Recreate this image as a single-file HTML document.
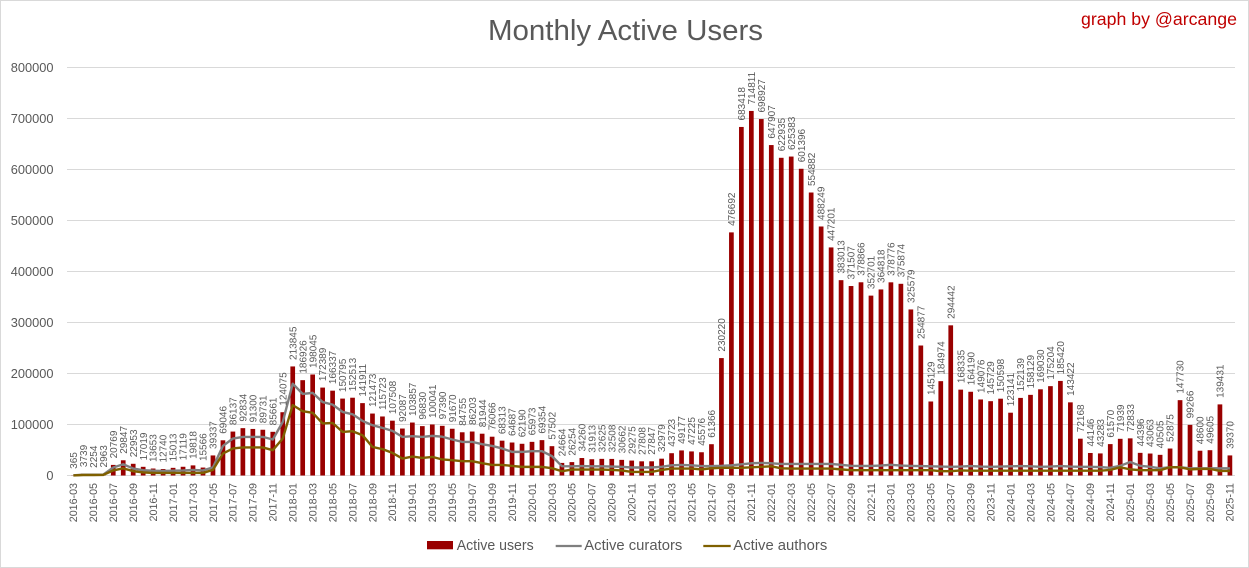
<!DOCTYPE html>
<html><head><meta charset="utf-8">
<style>
html,body{margin:0;padding:0;background:#fff;}
svg{display:block;font-family:"Liberation Sans",sans-serif;}
.d{font-size:10px;fill:#595959;transform:translate(calc(76.985px + var(--i) * 9.97px),calc(469px - var(--v) * 0.00051px)) rotate(-90deg);}
.x{font-size:10.7px;fill:#595959;text-anchor:end;transform:translate(calc(77.2px + var(--i) * 9.97px),483px) rotate(-90deg);}
.y{font-size:12.8px;fill:#595959;text-anchor:end;}
</style></head>
<body>
<svg width="1249" height="568" viewBox="0 0 1249 568" xmlns="http://www.w3.org/2000/svg">
<rect x="0.5" y="0.5" width="1248" height="567" fill="#fff" stroke="#d9d9d9"/>
<text x="625.5" y="40" font-size="28.5" fill="#595959" text-anchor="middle" textLength="275" lengthAdjust="spacingAndGlyphs">Monthly Active Users</text>
<text x="1237" y="25" font-size="17.5" fill="#c00000" text-anchor="end" textLength="156" lengthAdjust="spacingAndGlyphs">graph by @arcange</text>
<g stroke="#d9d9d9" stroke-width="1">
<line x1="67" x2="1235" y1="67.5" y2="67.5"/>
<line x1="67" x2="1235" y1="118.5" y2="118.5"/>
<line x1="67" x2="1235" y1="169.5" y2="169.5"/>
<line x1="67" x2="1235" y1="220.5" y2="220.5"/>
<line x1="67" x2="1235" y1="271.5" y2="271.5"/>
<line x1="67" x2="1235" y1="322.5" y2="322.5"/>
<line x1="67" x2="1235" y1="373.5" y2="373.5"/>
<line x1="67" x2="1235" y1="424.5" y2="424.5"/>
<line x1="67" x2="1235" y1="475.5" y2="475.5"/>
</g>
<text class="y" x="53.5" y="72">800000</text>
<text class="y" x="53.5" y="123">700000</text>
<text class="y" x="53.5" y="174">600000</text>
<text class="y" x="53.5" y="225">500000</text>
<text class="y" x="53.5" y="276">400000</text>
<text class="y" x="53.5" y="327">300000</text>
<text class="y" x="53.5" y="378">200000</text>
<text class="y" x="53.5" y="429">100000</text>
<text class="y" x="53.5" y="480">0</text>
<g transform="translate(68.4 475.5) scale(9.97 -0.00051)" fill="#990000">
<rect x="0.264" width="0.471" height="365"/>
<rect x="1.264" width="0.471" height="3739"/>
<rect x="2.264" width="0.471" height="2254"/>
<rect x="3.264" width="0.471" height="2963"/>
<rect x="4.264" width="0.471" height="20769"/>
<rect x="5.264" width="0.471" height="29847"/>
<rect x="6.264" width="0.471" height="22953"/>
<rect x="7.264" width="0.471" height="17019"/>
<rect x="8.264" width="0.471" height="13653"/>
<rect x="9.264" width="0.471" height="12740"/>
<rect x="10.264" width="0.471" height="15013"/>
<rect x="11.264" width="0.471" height="17119"/>
<rect x="12.264" width="0.471" height="19818"/>
<rect x="13.264" width="0.471" height="15566"/>
<rect x="14.264" width="0.471" height="39337"/>
<rect x="15.264" width="0.471" height="69046"/>
<rect x="16.264" width="0.471" height="86137"/>
<rect x="17.264" width="0.471" height="92834"/>
<rect x="18.264" width="0.471" height="91300"/>
<rect x="19.264" width="0.471" height="89731"/>
<rect x="20.264" width="0.471" height="85661"/>
<rect x="21.264" width="0.471" height="124075"/>
<rect x="22.264" width="0.471" height="213845"/>
<rect x="23.264" width="0.471" height="186926"/>
<rect x="24.264" width="0.471" height="198045"/>
<rect x="25.264" width="0.471" height="172389"/>
<rect x="26.264" width="0.471" height="166337"/>
<rect x="27.264" width="0.471" height="150795"/>
<rect x="28.264" width="0.471" height="152513"/>
<rect x="29.264" width="0.471" height="141911"/>
<rect x="30.264" width="0.471" height="121473"/>
<rect x="31.264" width="0.471" height="115723"/>
<rect x="32.264" width="0.471" height="107508"/>
<rect x="33.264" width="0.471" height="92087"/>
<rect x="34.264" width="0.471" height="103857"/>
<rect x="35.264" width="0.471" height="96830"/>
<rect x="36.264" width="0.471" height="100041"/>
<rect x="37.264" width="0.471" height="97390"/>
<rect x="38.264" width="0.471" height="91670"/>
<rect x="39.264" width="0.471" height="84755"/>
<rect x="40.264" width="0.471" height="86203"/>
<rect x="41.264" width="0.471" height="81944"/>
<rect x="42.264" width="0.471" height="76066"/>
<rect x="43.264" width="0.471" height="68313"/>
<rect x="44.264" width="0.471" height="64687"/>
<rect x="45.264" width="0.471" height="62190"/>
<rect x="46.264" width="0.471" height="65973"/>
<rect x="47.264" width="0.471" height="69354"/>
<rect x="48.264" width="0.471" height="57502"/>
<rect x="49.264" width="0.471" height="24664"/>
<rect x="50.264" width="0.471" height="26254"/>
<rect x="51.264" width="0.471" height="34260"/>
<rect x="52.264" width="0.471" height="31913"/>
<rect x="53.264" width="0.471" height="32625"/>
<rect x="54.264" width="0.471" height="32508"/>
<rect x="55.264" width="0.471" height="30662"/>
<rect x="56.264" width="0.471" height="29275"/>
<rect x="57.264" width="0.471" height="27808"/>
<rect x="58.264" width="0.471" height="27847"/>
<rect x="59.264" width="0.471" height="32979"/>
<rect x="60.264" width="0.471" height="43723"/>
<rect x="61.264" width="0.471" height="49177"/>
<rect x="62.264" width="0.471" height="47225"/>
<rect x="63.264" width="0.471" height="45576"/>
<rect x="64.264" width="0.471" height="61366"/>
<rect x="65.264" width="0.471" height="230220"/>
<rect x="66.264" width="0.471" height="476692"/>
<rect x="67.264" width="0.471" height="683418"/>
<rect x="68.264" width="0.471" height="714811"/>
<rect x="69.264" width="0.471" height="698927"/>
<rect x="70.264" width="0.471" height="647907"/>
<rect x="71.264" width="0.471" height="622935"/>
<rect x="72.264" width="0.471" height="625383"/>
<rect x="73.264" width="0.471" height="601396"/>
<rect x="74.264" width="0.471" height="554882"/>
<rect x="75.264" width="0.471" height="488249"/>
<rect x="76.264" width="0.471" height="447201"/>
<rect x="77.264" width="0.471" height="383013"/>
<rect x="78.264" width="0.471" height="371507"/>
<rect x="79.264" width="0.471" height="378866"/>
<rect x="80.264" width="0.471" height="352701"/>
<rect x="81.264" width="0.471" height="364818"/>
<rect x="82.264" width="0.471" height="378776"/>
<rect x="83.264" width="0.471" height="375874"/>
<rect x="84.264" width="0.471" height="325579"/>
<rect x="85.264" width="0.471" height="254877"/>
<rect x="86.264" width="0.471" height="145129"/>
<rect x="87.264" width="0.471" height="184974"/>
<rect x="88.264" width="0.471" height="294442"/>
<rect x="89.264" width="0.471" height="168335"/>
<rect x="90.264" width="0.471" height="164190"/>
<rect x="91.264" width="0.471" height="149076"/>
<rect x="92.264" width="0.471" height="145729"/>
<rect x="93.264" width="0.471" height="150598"/>
<rect x="94.264" width="0.471" height="123141"/>
<rect x="95.264" width="0.471" height="152139"/>
<rect x="96.264" width="0.471" height="158129"/>
<rect x="97.264" width="0.471" height="169030"/>
<rect x="98.264" width="0.471" height="175204"/>
<rect x="99.264" width="0.471" height="185420"/>
<rect x="100.264" width="0.471" height="143422"/>
<rect x="101.264" width="0.471" height="72168"/>
<rect x="102.264" width="0.471" height="44146"/>
<rect x="103.264" width="0.471" height="43283"/>
<rect x="104.264" width="0.471" height="61570"/>
<rect x="105.264" width="0.471" height="71939"/>
<rect x="106.264" width="0.471" height="72833"/>
<rect x="107.264" width="0.471" height="44396"/>
<rect x="108.264" width="0.471" height="43063"/>
<rect x="109.264" width="0.471" height="40505"/>
<rect x="110.264" width="0.471" height="52875"/>
<rect x="111.264" width="0.471" height="147730"/>
<rect x="112.264" width="0.471" height="99266"/>
<rect x="113.264" width="0.471" height="48600"/>
<rect x="114.264" width="0.471" height="49605"/>
<rect x="115.264" width="0.471" height="139431"/>
<rect x="116.264" width="0.471" height="39370"/>
<polyline fill="none" stroke="#7f7f7f" stroke-width="2.4" stroke-linejoin="round" vector-effect="non-scaling-stroke" points="0.5,300 1.5,1500 2.5,1500 3.5,1800 4.5,15700 5.5,22000 6.5,13700 7.5,10500 8.5,9500 9.5,9000 10.5,9500 11.5,10000 12.5,11000 13.5,10000 14.5,16000 15.5,58000 16.5,72500 17.5,75700 18.5,75700 19.5,75700 20.5,70600 21.5,105000 22.5,180000 23.5,160000 24.5,162000 25.5,144000 26.5,139000 27.5,124700 28.5,120000 29.5,107000 30.5,98600 31.5,93400 32.5,87500 33.5,75700 34.5,77000 35.5,75700 36.5,77700 37.5,76000 38.5,70600 39.5,65900 40.5,65900 41.5,61400 42.5,58000 43.5,53000 44.5,46300 45.5,46300 46.5,47600 47.5,47600 48.5,38000 49.5,18200 50.5,18000 51.5,18500 52.5,18000 53.5,18000 54.5,17500 55.5,17000 56.5,15700 57.5,15700 58.5,15700 59.5,17000 60.5,20000 61.5,20800 62.5,20000 63.5,18500 64.5,18500 65.5,19000 66.5,20000 67.5,22000 68.5,24000 69.5,24700 70.5,24000 71.5,22700 72.5,22700 73.5,22700 74.5,22700 75.5,22700 76.5,22700 77.5,21000 78.5,19000 79.5,18800 80.5,18800 81.5,19500 82.5,21000 83.5,19500 84.5,18800 85.5,18500 86.5,18000 87.5,17500 88.5,17000 89.5,17500 90.5,18500 91.5,17500 92.5,17000 93.5,17500 94.5,18000 95.5,18500 96.5,18000 97.5,17000 98.5,17500 99.5,18500 100.5,17500 101.5,17000 102.5,17000 103.5,16500 104.5,15000 105.5,19000 106.5,26500 107.5,19000 108.5,17000 109.5,14000 110.5,16300 111.5,16300 112.5,14000 113.5,14000 114.5,14000 115.5,14000 116.5,14000"/>
<polyline fill="none" stroke="#7f6000" stroke-width="2.4" stroke-linejoin="round" vector-effect="non-scaling-stroke" points="0.5,200 1.5,1000 2.5,1000 3.5,1200 4.5,10000 5.5,14000 6.5,8500 7.5,6000 8.5,5000 9.5,5000 10.5,5000 11.5,5000 12.5,5000 13.5,5000 14.5,11000 15.5,43000 16.5,53000 17.5,55000 18.5,55000 19.5,55000 20.5,49600 21.5,72500 22.5,138000 23.5,126000 24.5,123000 25.5,102000 26.5,103000 27.5,85500 28.5,86800 29.5,79000 30.5,56000 31.5,51600 32.5,44300 33.5,33300 34.5,37200 35.5,34500 36.5,36500 37.5,31400 38.5,30000 39.5,28000 40.5,28000 41.5,24100 42.5,20800 43.5,20800 44.5,18800 45.5,16900 46.5,16900 47.5,16900 48.5,14300 49.5,8400 50.5,11700 51.5,11700 52.5,11700 53.5,11700 54.5,11000 55.5,10000 56.5,7000 57.5,7000 58.5,7000 59.5,11000 60.5,13700 61.5,13700 62.5,13700 63.5,12000 64.5,14000 65.5,15000 66.5,15000 67.5,15000 68.5,16000 69.5,17000 70.5,18000 71.5,14000 72.5,13700 73.5,13700 74.5,13700 75.5,13700 76.5,13700 77.5,12000 78.5,10400 79.5,10400 80.5,10400 81.5,10400 82.5,10400 83.5,10400 84.5,10400 85.5,10400 86.5,10400 87.5,8500 88.5,8500 89.5,10000 90.5,9500 91.5,9500 92.5,9500 93.5,9500 94.5,9500 95.5,9500 96.5,9500 97.5,9500 98.5,9500 99.5,9500 100.5,9500 101.5,9500 102.5,9500 103.5,9500 104.5,11000 105.5,16000 106.5,12000 107.5,10400 108.5,10400 109.5,10400 110.5,16300 111.5,16000 112.5,12000 113.5,13000 114.5,13000 115.5,9000 116.5,9000"/>
</g>
<g>
<text class="d" style="--i:0;--v:365">365</text>
<text class="d" style="--i:1;--v:3739">3739</text>
<text class="d" style="--i:2;--v:2254">2254</text>
<text class="d" style="--i:3;--v:2963">2963</text>
<text class="d" style="--i:4;--v:20769">20769</text>
<text class="d" style="--i:5;--v:29847">29847</text>
<text class="d" style="--i:6;--v:22953">22953</text>
<text class="d" style="--i:7;--v:17019">17019</text>
<text class="d" style="--i:8;--v:13653">13653</text>
<text class="d" style="--i:9;--v:12740">12740</text>
<text class="d" style="--i:10;--v:15013">15013</text>
<text class="d" style="--i:11;--v:17119">17119</text>
<text class="d" style="--i:12;--v:19818">19818</text>
<text class="d" style="--i:13;--v:15566">15566</text>
<text class="d" style="--i:14;--v:39337">39337</text>
<text class="d" style="--i:15;--v:69046">69046</text>
<text class="d" style="--i:16;--v:86137">86137</text>
<text class="d" style="--i:17;--v:92834">92834</text>
<text class="d" style="--i:18;--v:91300">91300</text>
<text class="d" style="--i:19;--v:89731">89731</text>
<text class="d" style="--i:20;--v:85661">85661</text>
<text class="d" style="--i:21;--v:124075">124075</text>
<text class="d" style="--i:22;--v:213845">213845</text>
<text class="d" style="--i:23;--v:186926">186926</text>
<text class="d" style="--i:24;--v:198045">198045</text>
<text class="d" style="--i:25;--v:172389">172389</text>
<text class="d" style="--i:26;--v:166337">166337</text>
<text class="d" style="--i:27;--v:150795">150795</text>
<text class="d" style="--i:28;--v:152513">152513</text>
<text class="d" style="--i:29;--v:141911">141911</text>
<text class="d" style="--i:30;--v:121473">121473</text>
<text class="d" style="--i:31;--v:115723">115723</text>
<text class="d" style="--i:32;--v:107508">107508</text>
<text class="d" style="--i:33;--v:92087">92087</text>
<text class="d" style="--i:34;--v:103857">103857</text>
<text class="d" style="--i:35;--v:96830">96830</text>
<text class="d" style="--i:36;--v:100041">100041</text>
<text class="d" style="--i:37;--v:97390">97390</text>
<text class="d" style="--i:38;--v:91670">91670</text>
<text class="d" style="--i:39;--v:84755">84755</text>
<text class="d" style="--i:40;--v:86203">86203</text>
<text class="d" style="--i:41;--v:81944">81944</text>
<text class="d" style="--i:42;--v:76066">76066</text>
<text class="d" style="--i:43;--v:68313">68313</text>
<text class="d" style="--i:44;--v:64687">64687</text>
<text class="d" style="--i:45;--v:62190">62190</text>
<text class="d" style="--i:46;--v:65973">65973</text>
<text class="d" style="--i:47;--v:69354">69354</text>
<text class="d" style="--i:48;--v:57502">57502</text>
<text class="d" style="--i:49;--v:24664">24664</text>
<text class="d" style="--i:50;--v:26254">26254</text>
<text class="d" style="--i:51;--v:34260">34260</text>
<text class="d" style="--i:52;--v:31913">31913</text>
<text class="d" style="--i:53;--v:32625">32625</text>
<text class="d" style="--i:54;--v:32508">32508</text>
<text class="d" style="--i:55;--v:30662">30662</text>
<text class="d" style="--i:56;--v:29275">29275</text>
<text class="d" style="--i:57;--v:27808">27808</text>
<text class="d" style="--i:58;--v:27847">27847</text>
<text class="d" style="--i:59;--v:32979">32979</text>
<text class="d" style="--i:60;--v:43723">43723</text>
<text class="d" style="--i:61;--v:49177">49177</text>
<text class="d" style="--i:62;--v:47225">47225</text>
<text class="d" style="--i:63;--v:45576">45576</text>
<text class="d" style="--i:64;--v:61366">61366</text>
<text class="d" style="--i:65;--v:230220">230220</text>
<text class="d" style="--i:66;--v:476692">476692</text>
<text class="d" style="--i:67;--v:683418">683418</text>
<text class="d" style="--i:68;--v:714811">714811</text>
<text class="d" style="--i:69;--v:698927">698927</text>
<text class="d" style="--i:70;--v:647907">647907</text>
<text class="d" style="--i:71;--v:622935">622935</text>
<text class="d" style="--i:72;--v:625383">625383</text>
<text class="d" style="--i:73;--v:601396">601396</text>
<text class="d" style="--i:74;--v:554882">554882</text>
<text class="d" style="--i:75;--v:488249">488249</text>
<text class="d" style="--i:76;--v:447201">447201</text>
<text class="d" style="--i:77;--v:383013">383013</text>
<text class="d" style="--i:78;--v:371507">371507</text>
<text class="d" style="--i:79;--v:378866">378866</text>
<text class="d" style="--i:80;--v:352701">352701</text>
<text class="d" style="--i:81;--v:364818">364818</text>
<text class="d" style="--i:82;--v:378776">378776</text>
<text class="d" style="--i:83;--v:375874">375874</text>
<text class="d" style="--i:84;--v:325579">325579</text>
<text class="d" style="--i:85;--v:254877">254877</text>
<text class="d" style="--i:86;--v:145129">145129</text>
<text class="d" style="--i:87;--v:184974">184974</text>
<text class="d" style="--i:88;--v:294442">294442</text>
<text class="d" style="--i:89;--v:168335">168335</text>
<text class="d" style="--i:90;--v:164190">164190</text>
<text class="d" style="--i:91;--v:149076">149076</text>
<text class="d" style="--i:92;--v:145729">145729</text>
<text class="d" style="--i:93;--v:150598">150598</text>
<text class="d" style="--i:94;--v:123141">123141</text>
<text class="d" style="--i:95;--v:152139">152139</text>
<text class="d" style="--i:96;--v:158129">158129</text>
<text class="d" style="--i:97;--v:169030">169030</text>
<text class="d" style="--i:98;--v:175204">175204</text>
<text class="d" style="--i:99;--v:185420">185420</text>
<text class="d" style="--i:100;--v:143422">143422</text>
<text class="d" style="--i:101;--v:72168">72168</text>
<text class="d" style="--i:102;--v:44146">44146</text>
<text class="d" style="--i:103;--v:43283">43283</text>
<text class="d" style="--i:104;--v:61570">61570</text>
<text class="d" style="--i:105;--v:71939">71939</text>
<text class="d" style="--i:106;--v:72833">72833</text>
<text class="d" style="--i:107;--v:44396">44396</text>
<text class="d" style="--i:108;--v:43063">43063</text>
<text class="d" style="--i:109;--v:40505">40505</text>
<text class="d" style="--i:110;--v:52875">52875</text>
<text class="d" style="--i:111;--v:147730">147730</text>
<text class="d" style="--i:112;--v:99266">99266</text>
<text class="d" style="--i:113;--v:48600">48600</text>
<text class="d" style="--i:114;--v:49605">49605</text>
<text class="d" style="--i:115;--v:139431">139431</text>
<text class="d" style="--i:116;--v:39370">39370</text>
</g>
<g>
<text class="x" style="--i:0">2016-03</text>
<text class="x" style="--i:2">2016-05</text>
<text class="x" style="--i:4">2016-07</text>
<text class="x" style="--i:6">2016-09</text>
<text class="x" style="--i:8">2016-11</text>
<text class="x" style="--i:10">2017-01</text>
<text class="x" style="--i:12">2017-03</text>
<text class="x" style="--i:14">2017-05</text>
<text class="x" style="--i:16">2017-07</text>
<text class="x" style="--i:18">2017-09</text>
<text class="x" style="--i:20">2017-11</text>
<text class="x" style="--i:22">2018-01</text>
<text class="x" style="--i:24">2018-03</text>
<text class="x" style="--i:26">2018-05</text>
<text class="x" style="--i:28">2018-07</text>
<text class="x" style="--i:30">2018-09</text>
<text class="x" style="--i:32">2018-11</text>
<text class="x" style="--i:34">2019-01</text>
<text class="x" style="--i:36">2019-03</text>
<text class="x" style="--i:38">2019-05</text>
<text class="x" style="--i:40">2019-07</text>
<text class="x" style="--i:42">2019-09</text>
<text class="x" style="--i:44">2019-11</text>
<text class="x" style="--i:46">2020-01</text>
<text class="x" style="--i:48">2020-03</text>
<text class="x" style="--i:50">2020-05</text>
<text class="x" style="--i:52">2020-07</text>
<text class="x" style="--i:54">2020-09</text>
<text class="x" style="--i:56">2020-11</text>
<text class="x" style="--i:58">2021-01</text>
<text class="x" style="--i:60">2021-03</text>
<text class="x" style="--i:62">2021-05</text>
<text class="x" style="--i:64">2021-07</text>
<text class="x" style="--i:66">2021-09</text>
<text class="x" style="--i:68">2021-11</text>
<text class="x" style="--i:70">2022-01</text>
<text class="x" style="--i:72">2022-03</text>
<text class="x" style="--i:74">2022-05</text>
<text class="x" style="--i:76">2022-07</text>
<text class="x" style="--i:78">2022-09</text>
<text class="x" style="--i:80">2022-11</text>
<text class="x" style="--i:82">2023-01</text>
<text class="x" style="--i:84">2023-03</text>
<text class="x" style="--i:86">2023-05</text>
<text class="x" style="--i:88">2023-07</text>
<text class="x" style="--i:90">2023-09</text>
<text class="x" style="--i:92">2023-11</text>
<text class="x" style="--i:94">2024-01</text>
<text class="x" style="--i:96">2024-03</text>
<text class="x" style="--i:98">2024-05</text>
<text class="x" style="--i:100">2024-07</text>
<text class="x" style="--i:102">2024-09</text>
<text class="x" style="--i:104">2024-11</text>
<text class="x" style="--i:106">2025-01</text>
<text class="x" style="--i:108">2025-03</text>
<text class="x" style="--i:110">2025-05</text>
<text class="x" style="--i:112">2025-07</text>
<text class="x" style="--i:114">2025-09</text>
<text class="x" style="--i:116">2025-11</text>
</g>
<rect x="427" y="541" width="26" height="8.3" fill="#990000"/>
<text x="456.7" y="550" font-size="14.5" fill="#595959" textLength="77" lengthAdjust="spacingAndGlyphs">Active users</text>
<line x1="555.7" x2="581.7" y1="546" y2="546" stroke="#7f7f7f" stroke-width="2.2"/>
<text x="584.3" y="550" font-size="14.5" fill="#595959" textLength="98" lengthAdjust="spacingAndGlyphs">Active curators</text>
<line x1="703.3" x2="730.7" y1="546" y2="546" stroke="#7f6000" stroke-width="2.2"/>
<text x="733.3" y="550" font-size="14.5" fill="#595959" textLength="94" lengthAdjust="spacingAndGlyphs">Active authors</text>
</svg>
</body></html>
